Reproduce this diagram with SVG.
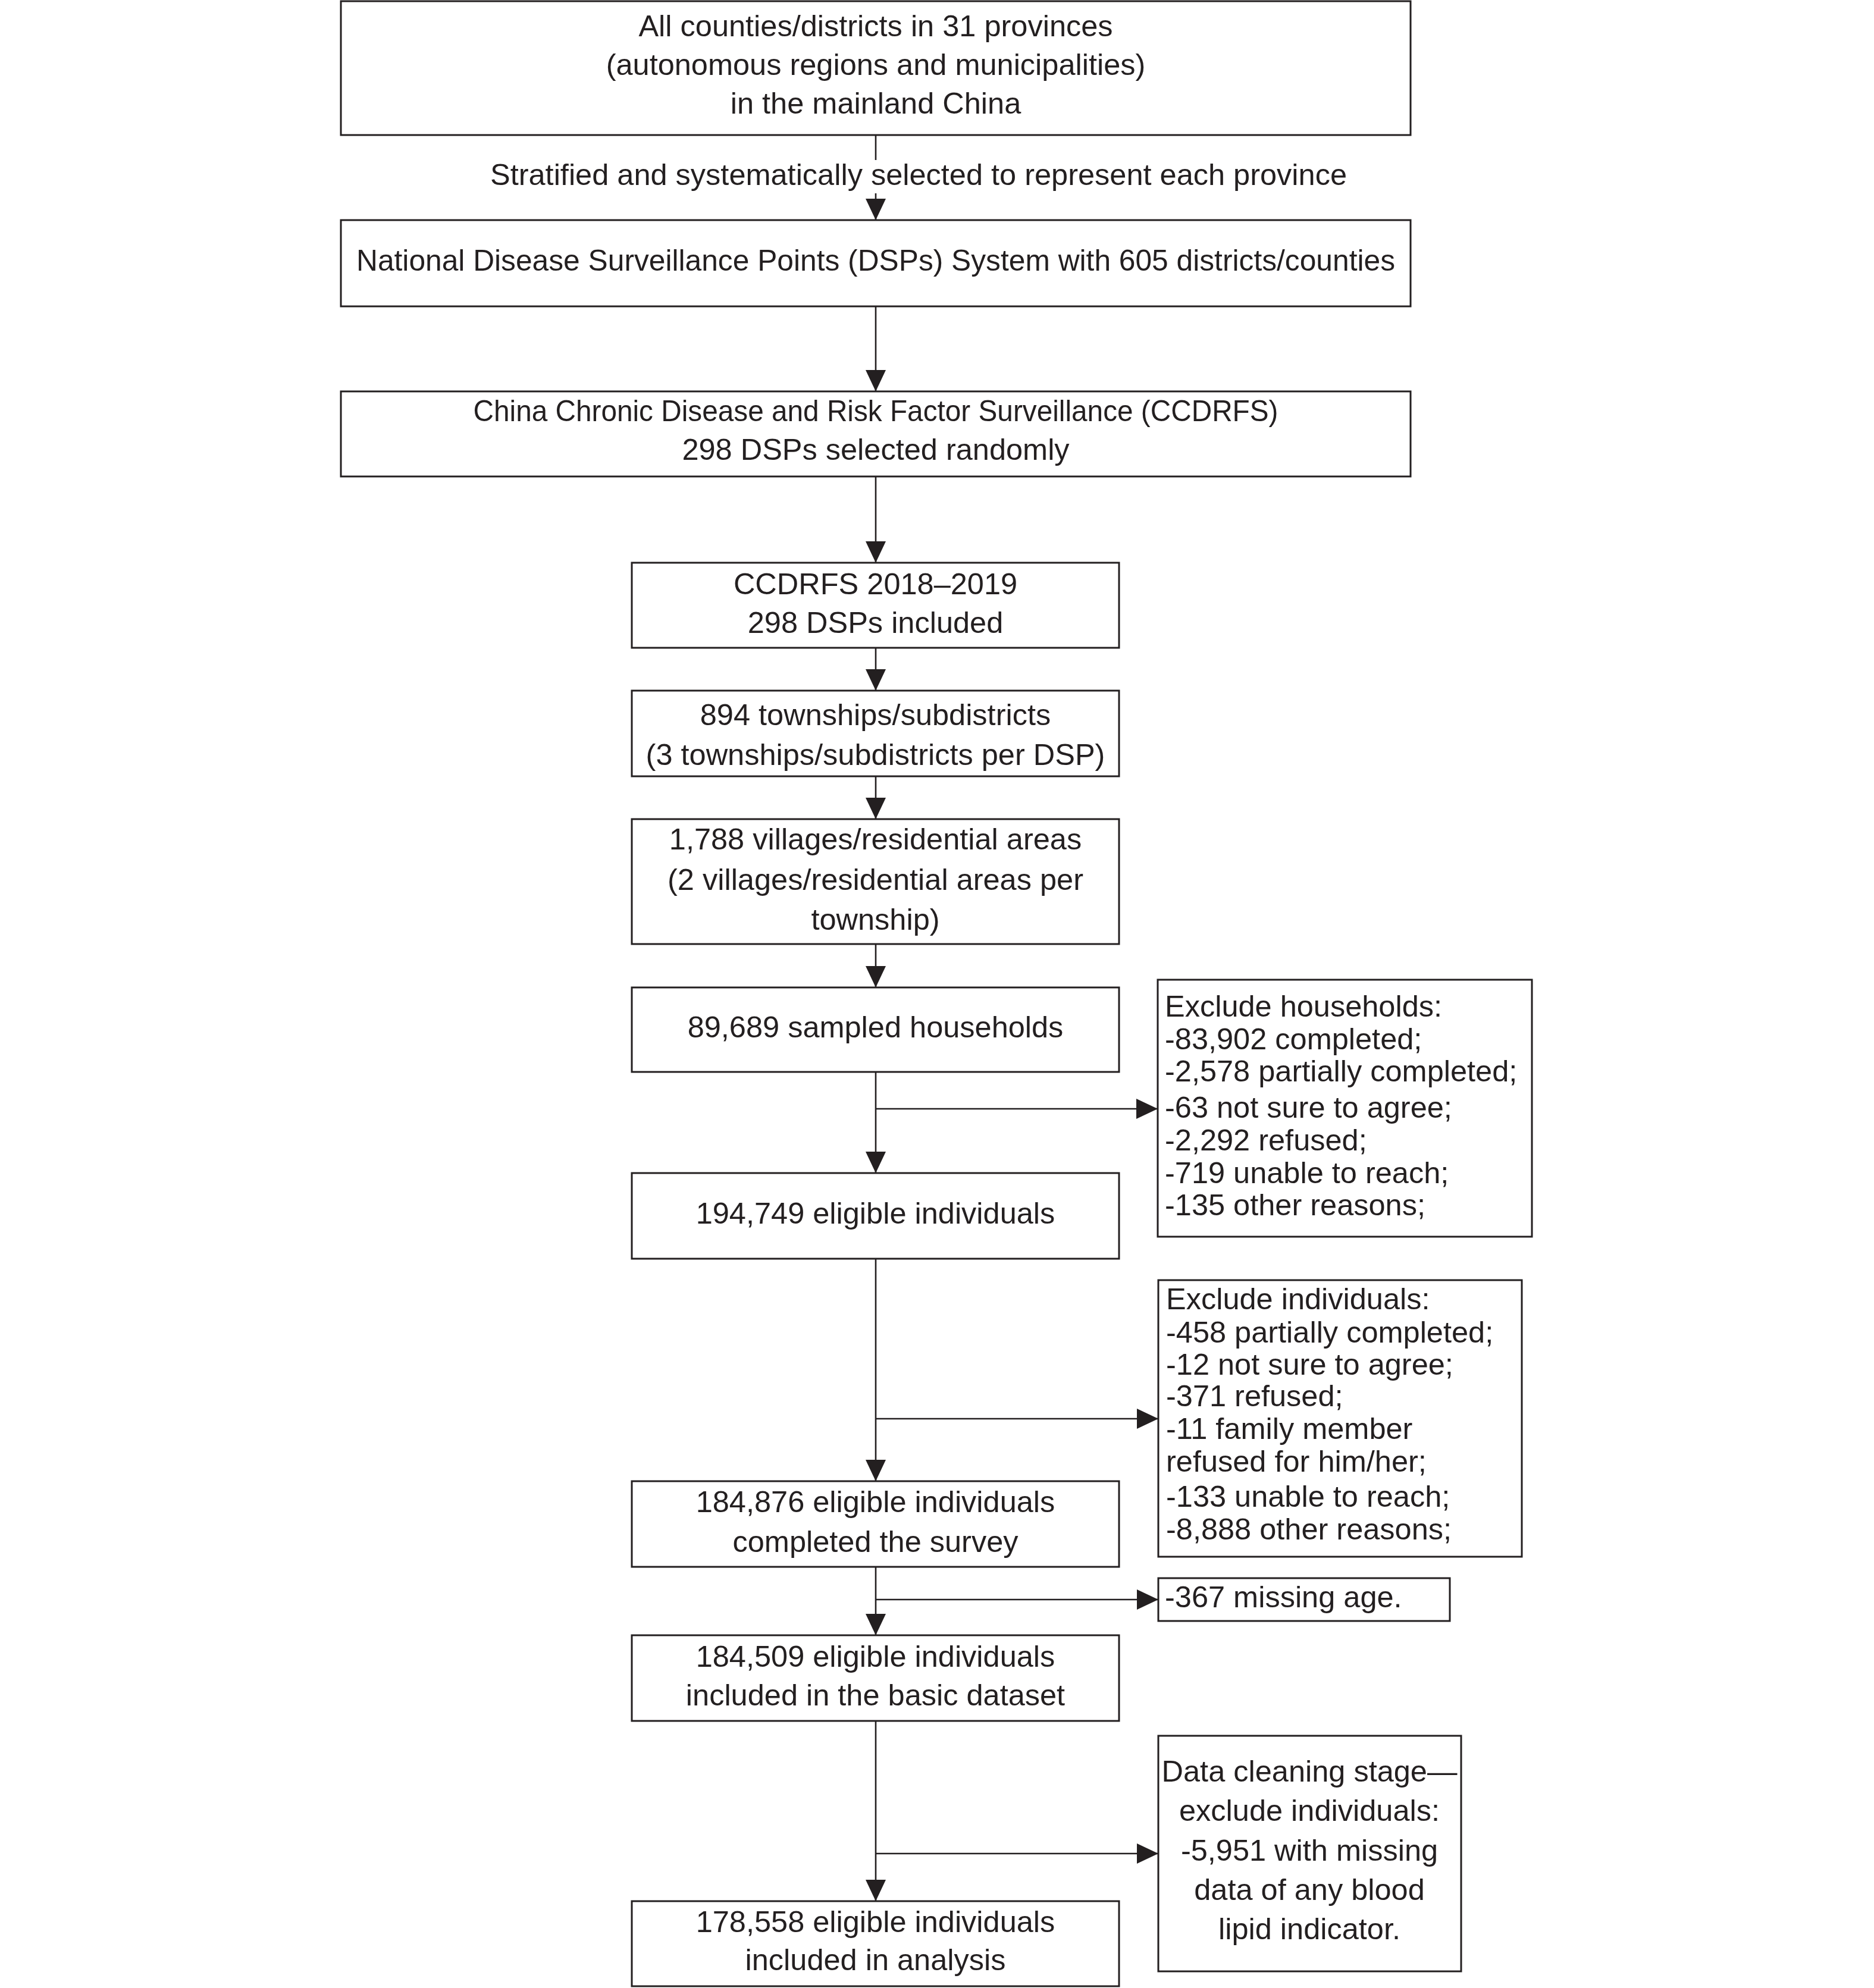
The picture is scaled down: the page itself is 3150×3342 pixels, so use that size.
<svg xmlns="http://www.w3.org/2000/svg" width="3150" height="3342" viewBox="0 0 3150 3342">
<style>
.box{fill:#fff;stroke:#231f20;stroke-width:3}
.t{font-family:"Liberation Sans",Arial,sans-serif;font-size:50.5px;fill:#231f20}
.c{text-anchor:middle}
.ln{fill:none;stroke:#231f20;stroke-width:2.6}
</style>
<defs>
<marker id="ah" markerUnits="userSpaceOnUse" markerWidth="36" markerHeight="34" refX="36" refY="17" orient="auto">
<path d="M0,0 L36,17 L0,34 z" fill="#231f20"/>
</marker>
</defs>
<rect width="3150" height="3342" fill="#fff"/>
<g id="connectors">
<line class="ln" x1="1472" y1="227" x2="1472" y2="269"/>
<line class="ln" x1="1472" y1="325" x2="1472" y2="370" marker-end="url(#ah)"/>
<text class="t c" x="1544" y="311">Stratified and systematically selected to represent each province</text>
<line class="ln" x1="1472" y1="515" x2="1472" y2="658" marker-end="url(#ah)"/>
<line class="ln" x1="1472" y1="801" x2="1472" y2="946" marker-end="url(#ah)"/>
<line class="ln" x1="1472" y1="1089" x2="1472" y2="1161" marker-end="url(#ah)"/>
<line class="ln" x1="1472" y1="1305" x2="1472" y2="1377" marker-end="url(#ah)"/>
<line class="ln" x1="1472" y1="1587" x2="1472" y2="1660" marker-end="url(#ah)"/>
<line class="ln" x1="1472" y1="1802" x2="1472" y2="1972" marker-end="url(#ah)"/>
<line class="ln" x1="1472" y1="1864" x2="1946" y2="1864" marker-end="url(#ah)"/>
<line class="ln" x1="1472" y1="2116" x2="1472" y2="2490" marker-end="url(#ah)"/>
<line class="ln" x1="1472" y1="2385" x2="1947" y2="2385" marker-end="url(#ah)"/>
<line class="ln" x1="1472" y1="2634" x2="1472" y2="2749" marker-end="url(#ah)"/>
<line class="ln" x1="1472" y1="2689" x2="1947" y2="2689" marker-end="url(#ah)"/>
<line class="ln" x1="1472" y1="2893" x2="1472" y2="3196" marker-end="url(#ah)"/>
<line class="ln" x1="1472" y1="3116" x2="1947" y2="3116" marker-end="url(#ah)"/>
</g>
<g id="n1">
<rect class="box" x="573" y="2" width="1798" height="225"/>
<text class="t c" x="1472" y="61">All counties/districts in 31 provinces</text>
<text class="t c" x="1472" y="126">(autonomous regions and municipalities)</text>
<text class="t c" x="1472" y="191">in the mainland China</text>
</g>
<g id="n2">
<rect class="box" x="573" y="370" width="1798" height="145"/>
<text class="t c" x="1472" y="455" textLength="1746" lengthAdjust="spacingAndGlyphs">National Disease Surveillance Points (DSPs) System with 605 districts/counties</text>
</g>
<g id="n3">
<rect class="box" x="573" y="658" width="1798" height="143"/>
<text class="t c" x="1472" y="708" textLength="1353" lengthAdjust="spacingAndGlyphs">China Chronic Disease and Risk Factor Surveillance (CCDRFS)</text>
<text class="t c" x="1472" y="773">298 DSPs selected randomly</text>
</g>
<g id="n4">
<rect class="box" x="1062" y="946" width="819" height="143"/>
<text class="t c" x="1471.5" y="999">CCDRFS 2018–2019</text>
<text class="t c" x="1471.5" y="1064">298 DSPs included</text>
</g>
<g id="n5">
<rect class="box" x="1062" y="1161" width="819" height="144"/>
<text class="t c" x="1471.5" y="1219">894 townships/subdistricts</text>
<text class="t c" x="1471.5" y="1286">(3 townships/subdistricts per DSP)</text>
</g>
<g id="n6">
<rect class="box" x="1062" y="1377" width="819" height="210"/>
<text class="t c" x="1471.5" y="1428">1,788 villages/residential areas</text>
<text class="t c" x="1471.5" y="1496">(2 villages/residential areas per</text>
<text class="t c" x="1471.5" y="1563">township)</text>
</g>
<g id="n7">
<rect class="box" x="1062" y="1660" width="819" height="142"/>
<text class="t c" x="1471.5" y="1744">89,689 sampled households</text>
</g>
<g id="n8">
<rect class="box" x="1062" y="1972" width="819" height="144"/>
<text class="t c" x="1471.5" y="2057">194,749 eligible individuals</text>
</g>
<g id="n9">
<rect class="box" x="1062" y="2490" width="819" height="144"/>
<text class="t c" x="1471.5" y="2542">184,876 eligible individuals</text>
<text class="t c" x="1471.5" y="2609">completed the survey</text>
</g>
<g id="n10">
<rect class="box" x="1062" y="2749" width="819" height="144"/>
<text class="t c" x="1471.5" y="2802">184,509 eligible individuals</text>
<text class="t c" x="1471.5" y="2867">included in the basic dataset</text>
</g>
<g id="n11">
<rect class="box" x="1062" y="3196" width="819" height="143"/>
<text class="t c" x="1471.5" y="3248">178,558 eligible individuals</text>
<text class="t c" x="1471.5" y="3312">included in analysis</text>
</g>
<g id="s1">
<rect class="box" x="1946" y="1647" width="629" height="432"/>
<text class="t" x="1958" y="1709">Exclude households:</text>
<text class="t" x="1958" y="1764">-83,902 completed;</text>
<text class="t" x="1958" y="1818">-2,578 partially completed;</text>
<text class="t" x="1958" y="1879">-63 not sure to agree;</text>
<text class="t" x="1958" y="1934">-2,292 refused;</text>
<text class="t" x="1958" y="1989">-719 unable to reach;</text>
<text class="t" x="1958" y="2043">-135 other reasons;</text>
</g>
<g id="s2">
<rect class="box" x="1947" y="2152" width="611" height="465"/>
<text class="t" x="1960" y="2201">Exclude individuals:</text>
<text class="t" x="1960" y="2257">-458 partially completed;</text>
<text class="t" x="1960" y="2311">-12 not sure to agree;</text>
<text class="t" x="1960" y="2364">-371 refused;</text>
<text class="t" x="1960" y="2419">-11 family member</text>
<text class="t" x="1960" y="2474">refused for him/her;</text>
<text class="t" x="1960" y="2533">-133 unable to reach;</text>
<text class="t" x="1960" y="2588">-8,888 other reasons;</text>
</g>
<g id="s3">
<rect class="box" x="1947" y="2653" width="490" height="72"/>
<text class="t" x="1958" y="2702">-367 missing age.</text>
</g>
<g id="s4">
<rect class="box" x="1947" y="2918" width="509" height="396"/>
<text class="t c" x="2201" y="2995">Data cleaning stage—</text>
<text class="t c" x="2201" y="3061">exclude individuals:</text>
<text class="t c" x="2201" y="3128">-5,951 with missing</text>
<text class="t c" x="2201" y="3194">data of any blood</text>
<text class="t c" x="2201" y="3260">lipid indicator.</text>
</g>
</svg>
